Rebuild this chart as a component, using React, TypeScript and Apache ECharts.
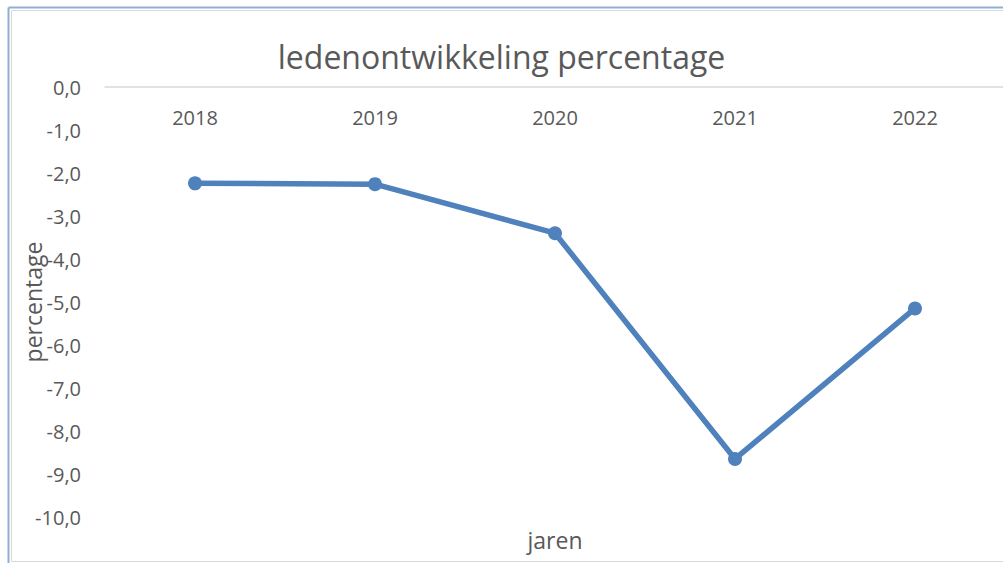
import React, { useEffect, useRef } from "react";
import * as echarts from "echarts";

const years = ["2018", "2019", "2020", "2021", "2022"];
const values = [-2.24, -2.26, -3.4, -8.65, -5.15];
const yTicks = { min: -10, max: 0, interval: 1 };

const GREY = "#595959";
const FONT = "Open Sans";

export default function App() {
  const ref = useRef<HTMLDivElement>(null);
  useEffect(() => {
    document.body.style.margin = "0";
    const chart = echarts.init(ref.current!, null, { renderer: "svg" });
    chart.setOption({
      animation: false,
      backgroundColor: "#ffffff",
      textStyle: { fontFamily: FONT },
      title: {
        text: "ledenontwikkeling percentage",
        left: "center",
        top: 35,
        textStyle: { fontSize: 32, fontWeight: "normal", color: GREY, fontFamily: FONT },
      },
      graphic: [
        { type: "line", shape: { x1: 8.5, y1: 7.5, x2: 1003, y2: 7.5 }, style: { stroke: "#8eb0d6", lineWidth: 2 } },
        { type: "line", shape: { x1: 8.5, y1: 7.5, x2: 8.5, y2: 563 }, style: { stroke: "#8eb0d6", lineWidth: 2 } },
        { type: "line", shape: { x1: 11.5, y1: 10.5, x2: 1003, y2: 10.5 }, style: { stroke: "#d9d9d9", lineWidth: 1 } },
        { type: "line", shape: { x1: 11.5, y1: 10.5, x2: 11.5, y2: 561.5 }, style: { stroke: "#d9d9d9", lineWidth: 1 } },
        { type: "line", shape: { x1: 11.5, y1: 561.5, x2: 1003, y2: 561.5 }, style: { stroke: "#d9d9d9", lineWidth: 1 } },
      ],
      grid: { left: 105, right: -2, top: 87, bottom: 46, containLabel: false, outerBoundsMode: "none" },
      xAxis: [
        {
          type: "category",
          data: years,
          boundaryGap: true,
          position: "top",
          axisLine: { onZero: false, lineStyle: { color: "#d9d9d9", width: 1.5 } },
          axisTick: { show: false },
          axisLabel: { inside: true, color: GREY, fontSize: 20, margin: 20, fontFamily: FONT },
        },
        {
          type: "category",
          data: years,
          position: "bottom",
          name: "jaren",
          nameLocation: "middle",
          nameGap: 11,
          axisLine: { show: false },
          axisTick: { show: false },
          axisLabel: { show: false },
          nameTextStyle: { color: GREY, fontSize: 23, fontFamily: FONT },
        },
      ],
      yAxis: {
        type: "value",
        min: yTicks.min,
        max: yTicks.max,
        interval: yTicks.interval,
        name: "percentage",
        nameLocation: "middle",
        nameRotate: 90,
        nameGap: 61,
        nameMoveOverlap: false,
        axisLine: { show: false },
        axisTick: { show: false },
        splitLine: { show: false },
        axisLabel: {
          color: GREY,
          fontSize: 20,
          margin: 24,
          fontFamily: FONT,
          formatter: (v: number) => v.toFixed(1).replace(".", ","),
        },
        nameTextStyle: { color: GREY, fontSize: 23, fontFamily: FONT },
      },
      series: [
        {
          type: "line",
          xAxisIndex: 0,
          data: values,
          symbol: "circle",
          symbolSize: 14,
          lineStyle: { color: "#4f81bd", width: 5.5 },
          itemStyle: { color: "#4f81bd" },
        },
      ],
    });
    return () => chart.dispose();
  }, []);
  return <div ref={ref} style={{ width: 1003, height: 563 }} />;
}
